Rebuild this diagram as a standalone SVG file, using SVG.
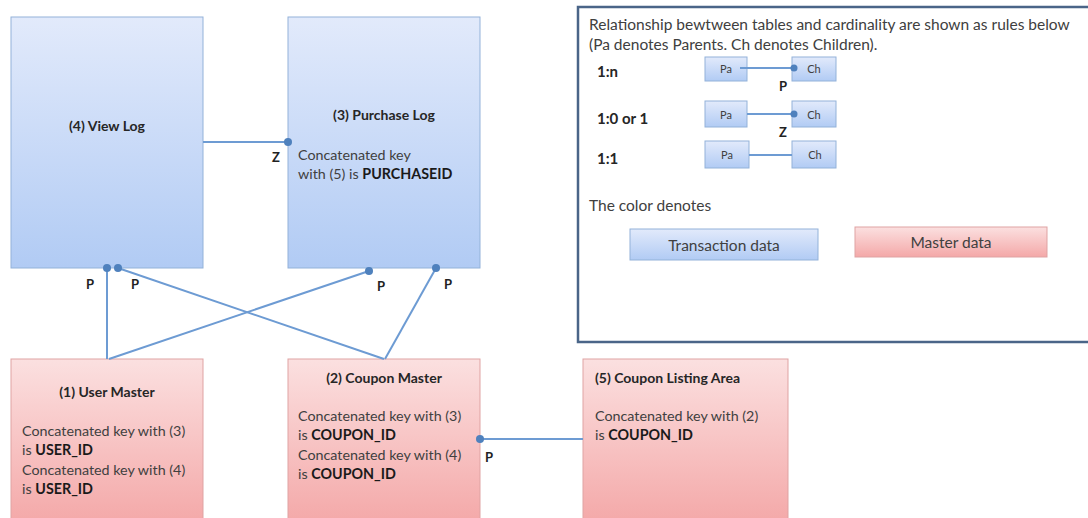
<svg xmlns="http://www.w3.org/2000/svg" width="1088" height="518" viewBox="0 0 1088 518">
<defs>
<linearGradient id="gb" x1="0" y1="0" x2="0" y2="1"><stop offset="0" stop-color="#e2eafb"/><stop offset="1" stop-color="#b1cbf4"/></linearGradient>
<linearGradient id="gr" x1="0" y1="0" x2="0" y2="1"><stop offset="0" stop-color="#fbe0e0"/><stop offset="1" stop-color="#f4a8a8"/></linearGradient>
</defs>
<style>
text{font-family:Lato,"Liberation Sans",sans-serif;font-size:14.3px;fill:#404040}
.b{font-weight:bold;fill:#1a1a1a}
.t{font-weight:bold;fill:#262626;font-size:14px}
.lg{font-size:15.5px}
.lt{font-weight:bold;fill:#262626;font-size:15px}
.blue{fill:url(#gb);stroke:#93b2d9;stroke-width:1}
.red{fill:url(#gr);stroke:#dfa3a3;stroke-width:1}
.ln{stroke:#6d9bd3;stroke-width:2;fill:none}
.dot{fill:#4f81bd}
.sm{font-size:11px}
.lbl{font-weight:bold;fill:#222;font-size:13px}
</style>
<rect width="1088" height="518" fill="#fff"/>

<g id="viewlog">
<rect class="blue" x="11" y="17" width="192" height="251"/>
<text class="t" x="107" y="131" text-anchor="middle">(4) View Log</text>
</g>
<g id="purchaselog">
<rect class="blue" x="288" y="17" width="192" height="251"/>
<text class="t" x="384" y="120" text-anchor="middle">(3) Purchase Log</text>
<text x="298" y="160">Concatenated key</text>
<text x="298" y="179">with (5) is <tspan class="b">PURCHASEID</tspan></text>
</g>
<g id="usermaster">
<rect class="red" x="11" y="359" width="192" height="165"/>
<text class="t" x="107" y="397" text-anchor="middle">(1) User Master</text>
<text x="22" y="436">Concatenated key with (3)</text>
<text x="22" y="455">is <tspan class="b">USER_ID</tspan></text>
<text x="22" y="475">Concatenated key with (4)</text>
<text x="22" y="494">is <tspan class="b">USER_ID</tspan></text>
</g>
<g id="couponmaster">
<rect class="red" x="288" y="359" width="192" height="165"/>
<text class="t" x="384" y="383" text-anchor="middle">(2) Coupon Master</text>
<text x="298" y="421">Concatenated key with (3)</text>
<text x="298" y="440">is <tspan class="b">COUPON_ID</tspan></text>
<text x="298" y="460">Concatenated key with (4)</text>
<text x="298" y="479">is <tspan class="b">COUPON_ID</tspan></text>
</g>
<g id="couponlisting">
<rect class="red" x="583" y="359" width="205" height="165"/>
<text class="t" x="595" y="383">(5) Coupon Listing Area</text>
<text x="595" y="421">Concatenated key with (2)</text>
<text x="595" y="440">is <tspan class="b">COUPON_ID</tspan></text>
</g>

<g id="connectors">
<line class="ln" x1="203" y1="142" x2="288" y2="142"/>
<circle class="dot" cx="288" cy="142" r="4"/>
<text class="lbl" x="272" y="162">Z</text>
<line class="ln" x1="107" y1="268" x2="107" y2="359"/>
<line class="ln" x1="118" y1="268" x2="384" y2="359"/>
<line class="ln" x1="369" y1="271" x2="109" y2="359"/>
<line class="ln" x1="436" y1="268" x2="385" y2="359"/>
<circle class="dot" cx="107" cy="268" r="4"/>
<circle class="dot" cx="118" cy="268" r="4"/>
<circle class="dot" cx="369" cy="271" r="4"/>
<circle class="dot" cx="436" cy="268" r="4"/>
<text class="lbl" x="86" y="289">P</text>
<text class="lbl" x="131" y="289">P</text>
<text class="lbl" x="377" y="291">P</text>
<text class="lbl" x="444" y="289">P</text>
<line class="ln" x1="480" y1="439" x2="583" y2="439"/>
<circle class="dot" cx="480" cy="439" r="4"/>
<text class="lbl" x="485" y="462">P</text>
</g>

<g id="legend">
<rect x="578" y="7" width="520" height="335" fill="#fff" stroke="#4a6588" stroke-width="2.5"/>
<text class="lg" x="589" y="30">Relationship bewtween tables and cardinality are shown as rules below</text>
<text class="lg" x="589" y="50">(Pa denotes Parents. Ch denotes Children).</text>
<text class="lt" x="597" y="77">1:n</text>
<text class="lt" x="597" y="124">1:0 or 1</text>
<text class="lt" x="597" y="164">1:1</text>
<rect class="blue" x="705" y="57" width="42" height="24"/>
<rect class="blue" x="792" y="57" width="44" height="24"/>
<rect class="blue" x="705" y="101" width="42" height="26"/>
<rect class="blue" x="792" y="101" width="44" height="26"/>
<rect class="blue" x="705" y="141" width="44" height="27"/>
<rect class="blue" x="792" y="141" width="44" height="27"/>
<text class="sm" x="726" y="73" text-anchor="middle">Pa</text>
<text class="sm" x="814" y="73" text-anchor="middle">Ch</text>
<text class="sm" x="726" y="119" text-anchor="middle">Pa</text>
<text class="sm" x="814" y="119" text-anchor="middle">Ch</text>
<text class="sm" x="727" y="159" text-anchor="middle">Pa</text>
<text class="sm" x="815" y="159" text-anchor="middle">Ch</text>
<line class="ln" x1="740" y1="68" x2="792" y2="68" stroke-width="1.5"/>
<circle class="dot" cx="794" cy="68" r="3.5"/>
<text class="lbl" x="779" y="91">P</text>
<line class="ln" x1="747" y1="114" x2="792" y2="114" stroke-width="1.5"/>
<circle class="dot" cx="794" cy="114" r="3.5"/>
<text class="lbl" x="779" y="137">Z</text>
<line class="ln" x1="749" y1="155" x2="792" y2="155" stroke-width="1.5"/>
<text class="lg" x="589" y="211">The color denotes</text>
<rect class="blue" x="630" y="229" width="188" height="31"/>
<text class="lg" x="724" y="251" text-anchor="middle">Transaction data</text>
<rect class="red" x="855" y="227" width="192" height="30"/>
<text class="lg" x="951" y="248" text-anchor="middle">Master data</text>
</g>
</svg>
